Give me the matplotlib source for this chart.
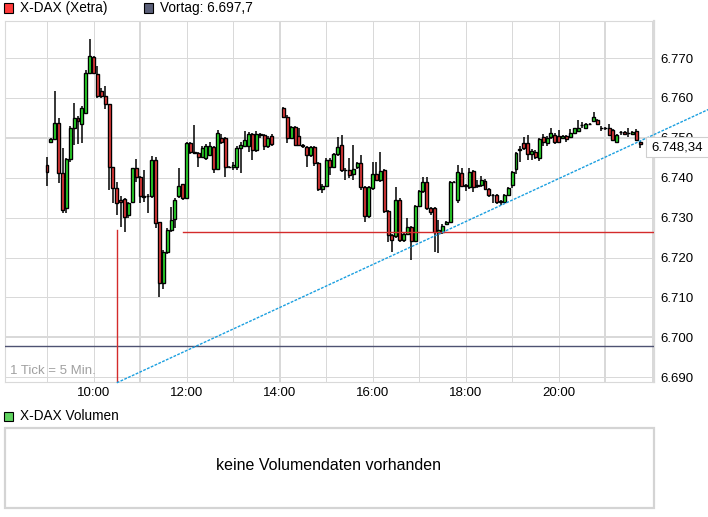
import numpy as np
import matplotlib
matplotlib.use("Agg")
import matplotlib.pyplot as plt
from matplotlib.patches import Rectangle

# ---------------- data ----------------
start_hour = 9.0          # first candle 09:00
interval_min = 5          # 1 Tick = 5 Min.
nan = None
opens = [6743.2, 6749.0, 6749.7, 6753.7, 6741.2, 6732.4, 6744.8, 6752.5, 6755.0, 6753.5,
         6756.2, 6766.2, 6770.2, 6766.0, 6761.7, 6760.5, 6758.5, 6742.7, 6737.5, 6734.5,
         6734.6, 6730.7, 6734.0, 6742.5, 6740.2, 6735.5, 6735.4, 6735.5, 6744.5, 6728.8,
         6713.7, 6721.5, 6727.0, 6729.7, 6735.5, 6738.5, 6735.0, 6748.7, 6746.5, 6746.3,
         6745.3, 6745.0, 6745.7, 6747.7, 6742.2, 6750.0, 6750.0, 6742.7, 6742.7, 6742.7,
         6747.5, 6748.0, 6748.0, 6751.0, 6747.0, 6751.0, 6750.8, 6748.0, 6750.5, nan,
         nan, 6757.5, 6755.3, 6750.0, 6752.8, 6750.5, 6748.2, 6747.6, 6745.7, 6747.8,
         6743.7, 6737.2, 6738.0, 6744.5, 6742.8, 6745.9, 6748.2, 6742.0, 6742.0, 6741.0,
         6742.6, 6743.7, 6737.6, 6730.4, 6737.4, 6740.9, 6739.5, 6742.0, 6731.6, 6725.7,
         6725.3, 6734.5, 6724.4, 6726.0, 6727.6, 6724.2, 6733.0, 6736.6, 6739.0, 6732.3,
         6732.4, 6726.2, 6726.3, 6728.5, 6729.0, 6739.0, 6734.4, 6741.1, 6738.0, 6737.7,
         6741.6, 6737.9, 6738.2, 6739.2, 6737.3, 6735.7, 6735.7, 6734.0, 6734.0, 6735.7,
         6738.2, 6742.1, 6747.0, 6748.6, 6748.8, 6745.9, 6746.5, 6744.9, 6750.3, 6748.6,
         6750.1, 6750.7, 6750.5, 6750.0, 6750.4, 6750.3, 6751.3, 6751.7, 6753.2, 6752.4,
         6753.6, 6754.2, 6754.5, 6752.5, 6752.5, 6752.5, 6752.0, 6748.9, 6751.4, 6751.4,
         6751.1, 6750.9, 6751.6, 6749.0]
highs = [6745.2, 6750.0, 6761.7, 6755.0, 6747.5, 6745.0, 6753.0, 6758.7, 6755.5, 6758.0,
         6767.0, 6774.7, 6770.5, 6768.0, 6762.5, 6763.0, 6758.5, 6742.7, 6739.0, 6735.5,
         6735.0, 6734.0, 6742.5, 6744.7, 6740.5, 6742.0, 6736.0, 6745.5, 6745.2, 6729.0,
         6722.0, 6727.5, 6732.7, 6735.0, 6742.5, 6738.5, 6749.0, 6749.0, 6753.2, 6746.5,
         6748.0, 6748.5, 6749.0, 6748.0, 6752.0, 6751.0, 6750.2, 6743.0, 6744.0, 6748.0,
         6749.0, 6751.7, 6751.5, 6751.3, 6751.7, 6751.3, 6751.0, 6750.5, 6751.0, nan,
         nan, 6757.7, 6755.7, 6753.0, 6753.0, 6752.4, 6748.5, 6748.0, 6748.0, 6748.0,
         6744.0, 6738.5, 6745.0, 6745.0, 6746.2, 6750.3, 6750.7, 6742.5, 6745.0, 6748.2,
         6744.0, 6745.7, 6738.0, 6738.0, 6744.0, 6744.0, 6746.5, 6742.2, 6732.0, 6726.0,
         6737.8, 6735.0, 6726.2, 6730.0, 6728.0, 6733.2, 6737.0, 6740.3, 6740.3, 6732.6,
         6732.6, 6729.4, 6728.5, 6729.2, 6739.2, 6739.3, 6743.2, 6742.4, 6738.5, 6742.5,
         6742.0, 6739.5, 6740.4, 6739.8, 6737.5, 6736.0, 6735.9, 6734.5, 6736.0, 6737.8,
         6741.8, 6746.5, 6748.0, 6750.3, 6750.7, 6747.3, 6747.0, 6750.0, 6751.0, 6750.5,
         6752.5, 6751.2, 6752.0, 6750.8, 6750.6, 6752.2, 6752.6, 6754.5, 6754.0, 6753.8,
         6753.8, 6756.5, 6754.8, 6753.0, 6752.8, 6753.6, 6752.2, 6751.0, 6751.8, 6751.6,
         6752.5, 6751.6, 6752.2, 6749.2]
lows = [6738.0, 6748.6, 6749.5, 6738.7, 6731.2, 6731.2, 6744.0, 6748.2, 6748.5, 6748.7,
        6756.2, 6766.0, 6766.0, 6760.0, 6760.0, 6757.2, 6737.0, 6733.7, 6730.7, 6727.7,
        6726.4, 6730.0, 6733.8, 6739.0, 6733.7, 6734.0, 6731.2, 6735.0, 6727.5, 6710.0,
        6712.0, 6721.0, 6726.5, 6727.5, 6735.0, 6734.5, 6734.8, 6746.0, 6746.0, 6742.7,
        6745.0, 6744.5, 6745.5, 6741.2, 6742.0, 6748.5, 6740.2, 6742.5, 6742.0, 6742.0,
        6741.2, 6747.7, 6746.5, 6744.5, 6746.5, 6750.0, 6747.0, 6747.5, 6748.0, nan,
        nan, 6755.0, 6748.7, 6749.8, 6748.0, 6748.0, 6747.5, 6742.6, 6745.2, 6743.0,
        6736.7, 6736.1, 6737.8, 6740.7, 6742.5, 6745.5, 6741.5, 6739.5, 6740.0, 6739.5,
        6742.3, 6737.0, 6728.8, 6730.0, 6737.0, 6739.2, 6739.0, 6731.1, 6723.8, 6721.5,
        6725.0, 6724.0, 6724.0, 6725.8, 6719.4, 6724.0, 6732.7, 6736.3, 6732.0, 6730.7,
        6721.5, 6721.2, 6726.0, 6728.3, 6728.8, 6738.7, 6733.6, 6737.7, 6736.7, 6737.3,
        6736.5, 6737.5, 6737.8, 6737.0, 6735.2, 6733.6, 6733.5, 6733.2, 6733.6, 6735.5,
        6737.5, 6741.0, 6744.0, 6747.0, 6744.5, 6744.5, 6744.6, 6744.3, 6748.0, 6748.0,
        6749.8, 6748.5, 6748.6, 6749.6, 6749.0, 6750.0, 6751.0, 6751.5, 6752.4, 6752.2,
        6753.2, 6754.0, 6753.3, 6751.7, 6752.0, 6750.5, 6749.2, 6748.7, 6750.8, 6750.6,
        6750.3, 6750.6, 6749.2, 6747.5]
closes = [6741.5, 6749.8, 6753.7, 6741.2, 6732.0, 6744.8, 6752.5, 6755.0, 6754.2, 6757.5,
          6766.2, 6770.5, 6766.2, 6760.5, 6760.5, 6758.5, 6742.7, 6737.5, 6733.7, 6734.0,
          6730.2, 6733.7, 6742.5, 6740.2, 6735.5, 6735.3, 6735.5, 6744.5, 6728.7, 6713.7,
          6721.5, 6727.0, 6729.5, 6734.5, 6738.0, 6735.0, 6748.7, 6746.5, 6746.3, 6745.3,
          6747.5, 6748.0, 6748.0, 6742.2, 6751.2, 6749.0, 6742.7, 6742.8, 6743.3, 6747.5,
          6748.2, 6749.5, 6751.0, 6747.0, 6751.0, 6750.8, 6748.0, 6750.0, 6748.5, nan,
          nan, 6755.2, 6750.0, 6752.8, 6748.2, 6748.2, 6748.0, 6745.7, 6747.6, 6743.7,
          6737.2, 6738.0, 6744.5, 6742.8, 6745.9, 6747.6, 6742.0, 6742.0, 6740.7, 6742.2,
          6743.7, 6737.6, 6730.4, 6737.7, 6740.9, 6739.5, 6741.6, 6731.6, 6725.7, 6724.5,
          6734.5, 6724.4, 6726.0, 6727.6, 6724.2, 6733.0, 6736.6, 6739.0, 6732.3, 6731.5,
          6726.5, 6727.0, 6728.0, 6729.0, 6739.0, 6739.0, 6741.5, 6738.0, 6738.1, 6741.5,
          6737.7, 6738.2, 6739.4, 6737.3, 6735.7, 6735.6, 6734.0, 6734.1, 6735.7, 6737.5,
          6741.5, 6746.1, 6747.1, 6747.4, 6745.9, 6746.7, 6745.3, 6749.6, 6748.9, 6749.9,
          6751.1, 6749.0, 6749.0, 6750.4, 6749.7, 6751.3, 6752.4, 6752.4, 6753.2, 6753.6,
          6753.6, 6755.3, 6753.6, 6752.5, 6752.4, 6750.7, 6749.4, 6750.7, 6751.4, 6750.9,
          6751.1, 6751.4, 6749.4, 6748.34]

y_ticks = [6690, 6700, 6710, 6720, 6730, 6740, 6750, 6760, 6770]
y_tick_labels = ["6.690", "6.700", "6.710", "6.720", "6.730", "6.740", "6.750", "6.760", "6.770"]
x_ticks = [10, 12, 14, 16, 18, 20]
x_tick_labels = ["10:00", "12:00", "14:00", "16:00", "18:00", "20:00"]

vortag = 6697.7
last_price = 6748.34
marker_time = 10.5            # vertical red marker
marker_level = 6726.5         # horizontal red line
marker_line_start = 11.92
trend_start = (10.5, 6688.6)
trend_end = (23.215, 6757.1)

# ---------------- figure ----------------
W, H = 708, 517
plt.rcParams['font.family'] = ['Liberation Sans', 'DejaVu Sans']
fig = plt.figure(figsize=(W / 100, H / 100), dpi=100)
fig.patch.set_facecolor('white')

def fx(px):
    return px / W

def fy(py):
    return 1 - py / H

ax_l, ax_r, ax_t, ax_b = 5, 654, 21, 382
ax = fig.add_axes([fx(ax_l), fy(ax_b), (ax_r - ax_l) / W, (ax_b - ax_t) / H])
ax.set_xlim(8.097, 22.05)
ax.set_ylim(6688.8, 6779.3)

grid_c = '#d9d9d9'
for hr in range(9, 23):
    lw = 2.0 if hr in (11, 14, 21) else 1.0
    ax.axvline(hr, color=grid_c, lw=lw * 0.72, zorder=1)
for v in y_ticks:
    lw = 2.0 if v in (6700, 6750) else 1.0
    ax.axhline(v, color=grid_c, lw=lw * 0.72, zorder=1)

for s in ax.spines.values():
    s.set_color(grid_c)
    s.set_linewidth(0.8)
ax.spines['right'].set_linewidth(1.6)

ax.set_xticks(x_ticks)
ax.set_xticklabels(x_tick_labels)
ax.yaxis.tick_right()
ax.set_yticks(y_ticks)
ax.set_yticklabels(y_tick_labels)
ax.tick_params(axis='both', length=0, labelsize=9.5, colors='black')
ax.tick_params(axis='y', pad=4.5)
ax.tick_params(axis='x', pad=3.5)

# candles
o = np.array(opens, dtype=float)
h = np.array(highs, dtype=float)
l = np.array(lows, dtype=float)
c = np.array(closes, dtype=float)
t = start_hour + np.arange(len(o)) * interval_min / 60.0
ok = ~np.isnan(o)
ax.vlines(t[ok], l[ok], h[ok], color='black', lw=1.1, zorder=3)
up = c >= o
cols = np.where(up, '#2ee82e', '#f03c3c')
ax.bar(t[ok], np.abs(c - o)[ok], bottom=np.minimum(o, c)[ok], width=0.064,
       color=cols[ok], edgecolor='black', linewidth=1.0, zorder=4)

# reference lines
ax.axhline(vortag, color='#4e5272', lw=1.0, zorder=5)
ax.plot([marker_line_start, 22.05], [marker_level, marker_level], color='#d42b2b', lw=1.0, zorder=5)
ax.plot([marker_time, marker_time], [6688.8, marker_level + 0.3], color='#d42b2b', lw=1.0, zorder=5)
ax.plot([trend_start[0], trend_end[0]], [trend_start[1], trend_end[1]], color='#1a9fe0',
        lw=1.0, ls=(0, (2, 1)), zorder=6, clip_on=False)

ax.text(0.008, 0.03, "1 Tick = 5 Min.", transform=ax.transAxes,
        fontsize=9.5, color='#a0a0a0', ha='left', va='center', zorder=7)

# price box
fig.patches.append(Rectangle((fx(646), fy(157)), fx(70), 20 / H, transform=fig.transFigure,
                             facecolor='white', edgecolor='#cfcfcf', lw=0.8, zorder=2))
fig.text(fx(651), fy(147.5), "6.748,34", fontsize=9.5, ha='left', va='center', zorder=3)

# top legend
fig.patches.append(Rectangle((fx(3.5), fy(12.5)), fx(9), 9 / H, transform=fig.transFigure,
                             facecolor='#ff3b3b', edgecolor='black', lw=0.8, zorder=2))
fig.text(fx(20), fy(8), "X-DAX (Xetra)", fontsize=9.8, ha='left', va='center')
fig.patches.append(Rectangle((fx(143.5), fy(12.5)), fx(9), 9 / H, transform=fig.transFigure,
                             facecolor='#5a5f78', edgecolor='black', lw=0.8, zorder=2))
fig.text(fx(160), fy(8), "Vortag: 6.697,7", fontsize=9.8, ha='left', va='center')

# volume panel
fig.patches.append(Rectangle((fx(3.5), fy(421)), fx(9), 9 / H, transform=fig.transFigure,
                             facecolor='#5fd35f', edgecolor='black', lw=0.8, zorder=2))
fig.text(fx(20), fy(416.5), "X-DAX Volumen", fontsize=9.8, ha='left', va='center')
fig.patches.append(Rectangle((fx(5), fy(508)), fx(649), 80 / H, transform=fig.transFigure,
                             facecolor='white', edgecolor='#d4d4d4', lw=1.6, zorder=2))
fig.text(fx(328), fy(466), "keine Volumendaten vorhanden", fontsize=11.5, ha='center', va='center')

fig.savefig("out.png", dpi=100)
